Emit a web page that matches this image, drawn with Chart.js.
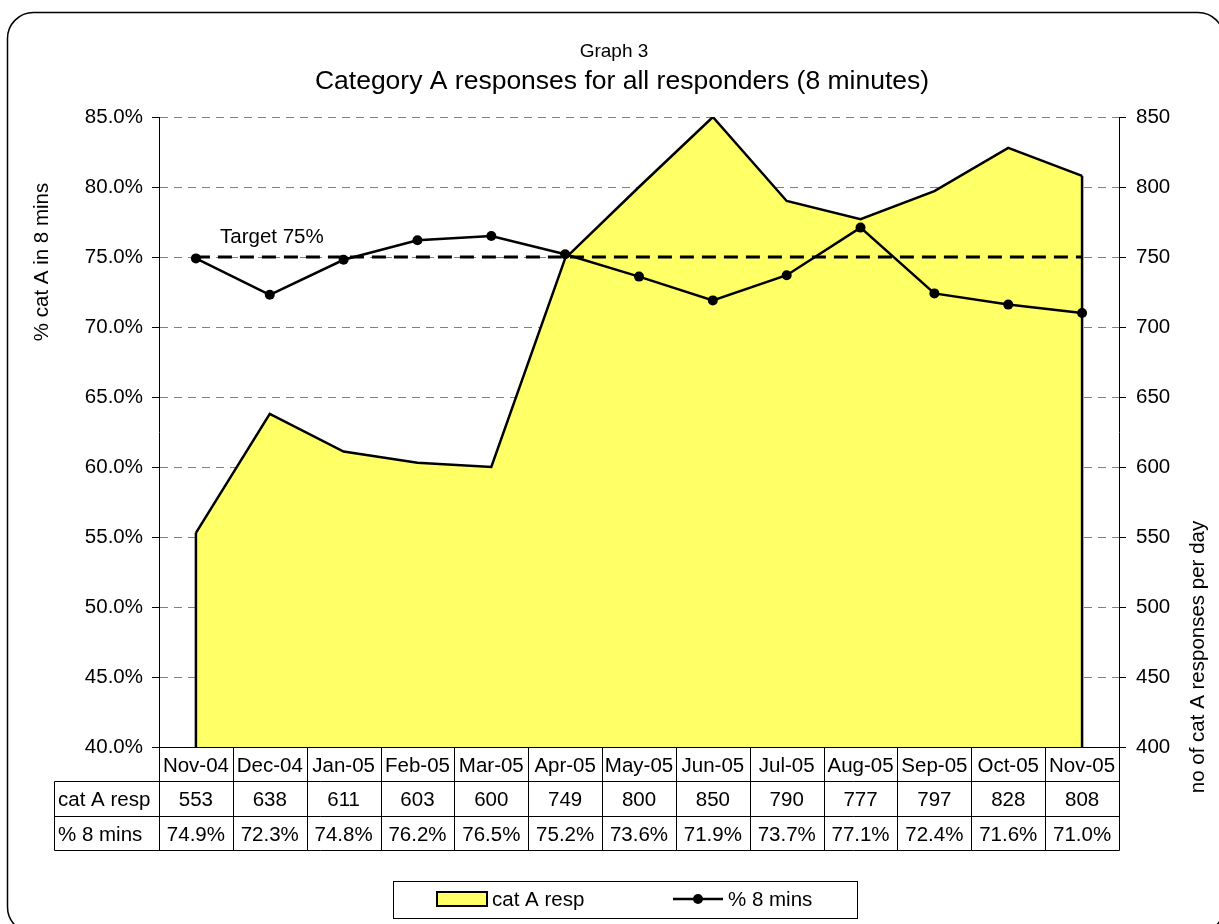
<!DOCTYPE html>
<html><head><meta charset="utf-8">
<script src="https://cdn.jsdelivr.net/npm/chart.js@4/dist/chart.umd.min.js"></script>
<style>html,body{margin:0;padding:0;background:#fff}#wrap{width:1219px;height:924px}</style>
</head><body><div id="wrap"><canvas id="c" width="1219" height="924"></canvas></div>
<script>
const categories = ['Nov-04','Dec-04','Jan-05','Feb-05','Mar-05','Apr-05','May-05','Jun-05','Jul-05','Aug-05','Sep-05','Oct-05','Nov-05'];
const catAResp = [553,638,611,603,600,749,800,850,790,777,797,828,808];
const pct8Mins = [74.9,72.3,74.8,76.2,76.5,75.2,73.6,71.9,73.7,77.1,72.4,71.6,71.0];
const pctLabels = ['74.9%','72.3%','74.8%','76.2%','76.5%','75.2%','73.6%','71.9%','73.7%','77.1%','72.4%','71.6%','71.0%'];
const leftAxisRange = [40, 85, 5];
const rightAxisRange = [400, 850, 50];
const targetValue = 75;
const targetLabel = 'Target 75%';
const chartSubTitle = 'Graph 3';
const chartTitle = 'Category A responses for all responders (8 minutes)';
const leftAxisTitle = '% cat A in 8 mins';
const rightAxisTitle = 'no of cat A responses per day';

const FONT = '"Liberation Sans", Arial, sans-serif';
const FS = 20.5;

const custom = {
  id: 'custom',
  beforeDraw(chart) {
    const ctx = chart.ctx;
    ctx.save();
    ctx.fillStyle = '#fff';
    ctx.fillRect(0, 0, chart.width, chart.height);
    ctx.restore();
  },
  afterDatasetDraw(chart, args) {
    if (args.index !== 1) return;
    const ctx = chart.ctx, ca = chart.chartArea;
    const pts = args.meta.data;
    ctx.save();
    ctx.strokeStyle = '#000';
    ctx.lineWidth = 2.5;
    ctx.beginPath();
    ctx.moveTo(pts[0].x, pts[0].y);
    ctx.lineTo(pts[0].x, ca.bottom);
    ctx.moveTo(pts[pts.length-1].x, pts[pts.length-1].y);
    ctx.lineTo(pts[pts.length-1].x, ca.bottom);
    ctx.stroke();
    // target line
    const ty = chart.scales.y.getPixelForValue(targetValue);
    ctx.lineWidth = 3;
    ctx.setLineDash([14, 8]);
    ctx.beginPath();
    ctx.moveTo(pts[0].x, ty);
    ctx.lineTo(pts[pts.length-1].x, ty);
    ctx.stroke();
    ctx.setLineDash([]);
    ctx.fillStyle = '#000';
    ctx.font = FS + 'px ' + FONT;
    ctx.textBaseline = 'alphabetic';
    ctx.textAlign = 'left';
    ctx.fillText(targetLabel, 220, 243);
    ctx.restore();
  },
  afterDraw(chart) {
    const ctx = chart.ctx, ca = chart.chartArea, xs = chart.scales.x;
    ctx.save();
    ctx.fillStyle = '#000';
    ctx.strokeStyle = '#000';
    // titles
    ctx.textAlign = 'center';
    ctx.textBaseline = 'alphabetic';
    ctx.font = '19px ' + FONT;
    ctx.fillText(chartSubTitle, 614, 57);
    ctx.font = '26.5px ' + FONT;
    ctx.fillText(chartTitle, 622, 89);
    // axis titles
    ctx.font = FS + 'px ' + FONT;
    ctx.textBaseline = 'middle';
    ctx.save(); ctx.translate(42, 262); ctx.rotate(-Math.PI/2); ctx.fillText(leftAxisTitle, 0, 0); ctx.restore();
    ctx.save(); ctx.translate(1198, 657); ctx.rotate(-Math.PI/2); ctx.fillText(rightAxisTitle, 0, 0); ctx.restore();

    // data table
    const n = categories.length;
    const centers = categories.map((c, i) => xs.getPixelForValue(i));
    const bounds = [ca.left];
    for (let i = 1; i < n; i++) bounds.push((centers[i-1] + centers[i]) / 2);
    bounds.push(ca.right);
    const rows = [ca.bottom, 781.5, 816.5, 850.5];
    const tableLeft = 54.5;
    ctx.lineWidth = 1;
    ctx.beginPath();
    ctx.moveTo(ca.left, Math.round(rows[0]) + 0.5); ctx.lineTo(ca.right, Math.round(rows[0]) + 0.5);
    for (let r = 1; r < rows.length; r++) { ctx.moveTo(tableLeft, rows[r]); ctx.lineTo(Math.round(ca.right)+0.5, rows[r]); }
    for (let i = 0; i <= n; i++) { const x = Math.round(bounds[i]) + 0.5; ctx.moveTo(x, rows[0]); ctx.lineTo(x, rows[3]); }
    ctx.moveTo(tableLeft, rows[1]); ctx.lineTo(tableLeft, rows[3]);
    ctx.stroke();
    ctx.font = FS + 'px ' + FONT;
    ctx.textBaseline = 'alphabetic';
    ctx.textAlign = 'center';
    const capHalf = FS * 0.716 / 2;
    const mid0 = (rows[0] + rows[1]) / 2, mid1 = (rows[1] + rows[2]) / 2, mid2 = (rows[2] + rows[3]) / 2;
    for (let i = 0; i < n; i++) {
      ctx.fillText(categories[i], centers[i], mid0 + capHalf);
      ctx.fillText(String(catAResp[i]), centers[i], mid1 + capHalf);
      ctx.fillText(pctLabels[i], centers[i], mid2 + capHalf);
    }
    ctx.textAlign = 'left';
    const ds = chart.data.datasets;
    ctx.fillText(ds[1].label, 58, mid1 + capHalf);
    ctx.fillText(ds[0].label, 58, mid2 + capHalf);

    // legend
    ctx.lineWidth = 1;
    ctx.strokeRect(393.5, 881.5, 464, 37);
    ctx.fillStyle = '#FFFF66';
    ctx.fillRect(437, 892, 50, 14);
    ctx.lineWidth = 2;
    ctx.strokeRect(437, 892, 50, 14);
    ctx.fillStyle = '#000';
    ctx.fillText(ds[1].label, 492, 906);
    ctx.lineWidth = 2.5;
    ctx.beginPath(); ctx.moveTo(673, 899); ctx.lineTo(723, 899); ctx.stroke();
    ctx.beginPath(); ctx.arc(698, 899, 5, 0, Math.PI*2); ctx.fill();
    ctx.fillText(ds[0].label, 728, 906);

    // outer rounded border
    ctx.lineWidth = 1.5;
    ctx.beginPath();
    if (ctx.roundRect) ctx.roundRect(7.5, 12.5, 1216.5, 920.5, 26); else ctx.rect(7.5, 12.5, 1216.5, 920.5);
    ctx.stroke();
    ctx.restore();
  }
};

const tickFont = { family: FONT, size: FS };
new Chart(document.getElementById('c'), {
  type: 'line',
  data: {
    labels: categories,
    datasets: [
      { label: '% 8 mins', data: pct8Mins, yAxisID: 'y', borderColor: '#000', borderWidth: 2.5,
        pointRadius: 5, pointBackgroundColor: '#000', pointBorderColor: '#000', pointBorderWidth: 0,
        tension: 0, fill: false, order: 0 },
      { label: 'cat A resp', data: catAResp, yAxisID: 'y1', borderColor: '#000', borderWidth: 2.5,
        backgroundColor: '#FFFF66', fill: 'start', pointRadius: 0, tension: 0, order: 1 }
    ]
  },
  options: {
    responsive: false,
    animation: false,
    devicePixelRatio: 1,
    layout: { padding: { top: 117, bottom: 177, left: 0, right: 0 } },
    plugins: { legend: { display: false }, title: { display: false }, tooltip: { enabled: false } },
    scales: {
      x: { type: 'category', offset: true, display: false },
      y: {
        position: 'left', min: leftAxisRange[0], max: leftAxisRange[1],
        ticks: { stepSize: leftAxisRange[2], color: '#000', font: tickFont, padding: 9,
                 callback: v => v.toFixed(1) + '%' },
        grid: { color: '#808080', lineWidth: 1, tickColor: '#000', tickLength: 7, borderDash: [8, 6] },
        border: { display: true, color: '#000', width: 1, dash: [8, 6] },
        afterFit: s => { s.width = 159; }
      },
      y1: {
        position: 'right', min: rightAxisRange[0], max: rightAxisRange[1],
        ticks: { stepSize: rightAxisRange[2], color: '#000', font: tickFont, padding: 10 },
        grid: { drawOnChartArea: false, tickColor: '#000', tickLength: 7 },
        border: { display: true, color: '#000', width: 1 },
        afterFit: s => { s.width = 100; }
      }
    }
  },
  plugins: [custom]
});
</script></body></html>
